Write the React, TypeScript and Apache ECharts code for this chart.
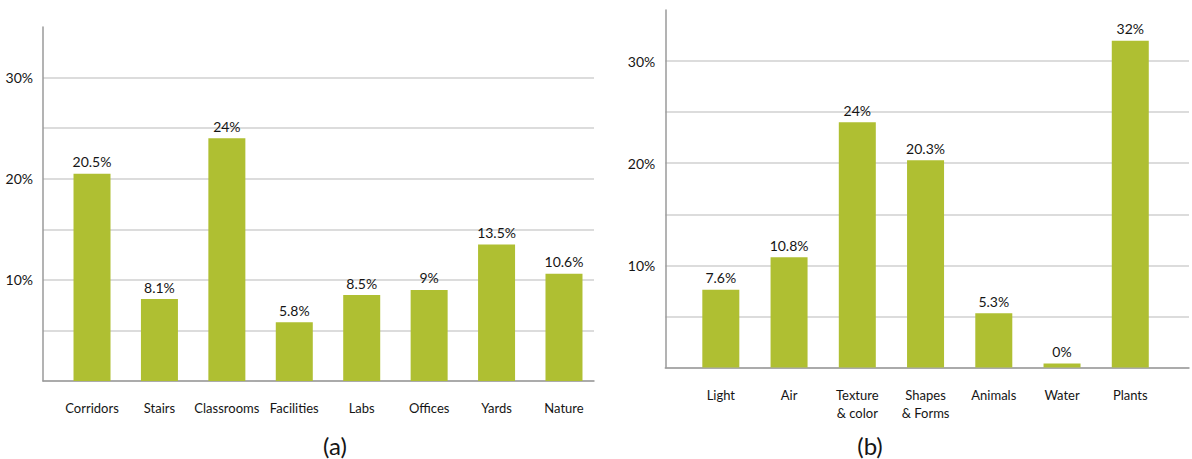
import React, { useEffect, useRef } from "react";
import * as echarts from "echarts";

const categoriesA = ["Corridors", "Stairs", "Classrooms", "Facilities", "Labs", "Offices", "Yards", "Nature"];
const valuesA = [20.5, 8.1, 24, 5.8, 8.5, 9, 13.5, 10.6];
const categoriesB = ["Light", "Air", "Texture\n& color", "Shapes\n& Forms", "Animals", "Water", "Plants"];
const valuesB = [7.6, 10.8, 24, 20.3, 5.3, 0, 32];
const yTickLabels = ["10%", "20%", "30%"];
const captions = ["(a)", "(b)"];

const FONT = "Lato, 'Open Sans', sans-serif";
const GREEN = "#afbf32";
const TEXT = "#151515";

export default function App() {
  const ref = useRef<HTMLDivElement>(null);
  useEffect(() => {
    if (!ref.current) return;
    const chart = echarts.init(ref.current, undefined, { renderer: "svg" });
    const yLabel = (v: number) => {
      const s = v + "%";
      return yTickLabels.includes(s) ? s : "";
    };
    const frameX = (gi: number) => ({
      type: "value",
      gridIndex: gi,
      min: 0,
      max: 1,
      axisLine: { show: true, lineStyle: { color: "#9a9a9a", width: 1.5 } },
      axisTick: { show: false },
      axisLabel: { show: false },
      splitLine: { show: false },
    });
    const frameY = (gi: number) => ({
      type: "value",
      gridIndex: gi,
      min: 0,
      max: 35,
      interval: 5,
      axisLine: { show: true, lineStyle: { color: "#9a9a9a", width: 1.5 } },
      axisTick: { show: false },
      axisLabel: { formatter: yLabel, margin: 10, fontSize: 14, color: TEXT, fontFamily: FONT },
      splitLine: { show: true, showMaxLine: false, lineStyle: { color: "#d0d0d0", width: 1.5 } },
    });
    const barX = (gi: number, cats: string[]) => ({
      type: "category",
      gridIndex: gi,
      data: cats,
      axisLine: { show: false },
      axisTick: { show: false },
      axisLabel: { margin: 18, fontSize: 13, lineHeight: 18, color: TEXT, fontFamily: FONT, interval: 0 },
    });
    const barY = (gi: number) => ({
      type: "value",
      gridIndex: gi,
      min: 0,
      max: 35,
      show: false,
      splitLine: { show: false },
    });
    const barSeries = (gi: number, vals: number[]) => ({
      type: "bar",
      xAxisIndex: gi,
      yAxisIndex: gi,
      data: vals,
      barWidth: 37,
      barMinHeight: 4,
      itemStyle: { color: GREEN },
      label: {
        show: true,
        position: "top",
        distance: 5,
        fontSize: 14,
        color: TEXT,
        fontFamily: FONT,
        formatter: (p: any) => vals[p.dataIndex] + "%",
      },
    });
    chart.setOption({
      animation: false,
      grid: [
        { left: 43, right: 598, top: 27, bottom: 78 },
        { left: 58.3, right: 594.3, top: 27, bottom: 78 },
        { left: 665.3, right: 3, top: 10, bottom: 91.5 },
        { left: 686.7, right: 27.6, top: 10, bottom: 91.5 },
      ],
      xAxis: [frameX(0), barX(1, categoriesA), frameX(2), barX(3, categoriesB)],
      yAxis: [frameY(0), barY(1), frameY(2), barY(3)],
      series: [barSeries(1, valuesA), barSeries(3, valuesB)],
      graphic: [
        {
          type: "text",
          x: 335,
          y: 445,
          style: { text: captions[0], fontSize: 24, fill: TEXT, fontFamily: FONT, align: "center", verticalAlign: "middle" },
        },
        {
          type: "text",
          x: 870,
          y: 445,
          style: { text: captions[1], fontSize: 24, fill: TEXT, fontFamily: FONT, align: "center", verticalAlign: "middle" },
        },
      ],
    });
    return () => chart.dispose();
  }, []);
  return (
    <div
      ref={ref}
      style={{ position: "fixed", left: 0, top: 0, width: 1192, height: 459, background: "#fff" }}
    />
  );
}
